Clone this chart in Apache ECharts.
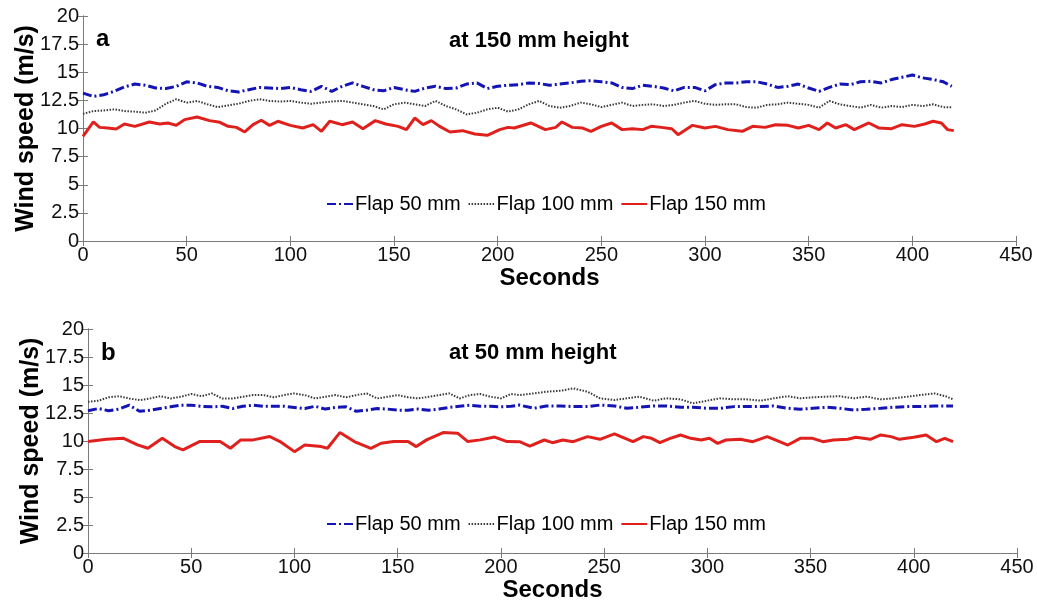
<!DOCTYPE html>
<html lang="en" style="height: 100%">

<head>
  <meta charset="utf-8">
</head>

<body style="height: 100%; margin: 0; background: #fff">
  <div id="container" style="width: 1037px; height: 603px"></div>

  <script type="text/javascript" src="https://cdn.jsdelivr.net/npm/echarts@6/dist/echarts.min.js"></script>
  <script type="text/javascript">
    // ---- panel a : at 150 mm height ----
    var secTop = [0, 5, 10, 15, 20, 25, 30, 35, 40, 45, 50, 55, 60, 65, 70, 75, 80, 85, 90, 95,
      100, 105, 110, 115, 120, 125, 130, 135, 140, 145, 150, 155, 160, 165, 170, 175, 180, 185, 190, 195,
      200, 205, 210, 215, 220, 225, 230, 235, 240, 245, 250, 255, 260, 265, 270, 275, 280, 285, 290, 295,
      300, 305, 310, 315, 320, 325, 330, 335, 340, 345, 350, 355, 360, 365, 370, 375, 380, 385, 390, 395,
      400, 405, 410, 415, 419];
    var flap50Top = [13.15, 12.85, 13.0, 13.3, 13.7, 13.95, 13.85, 13.6, 13.55, 13.75,
      14.15, 14.05, 13.75, 13.65, 13.35, 13.25, 13.45, 13.65, 13.6, 13.55,
      13.65, 13.45, 13.3, 13.75, 13.3, 13.75, 14.05, 13.75, 13.45, 13.35,
      13.65, 13.45, 13.3, 13.6, 13.75, 13.55, 13.6, 13.95, 14.05, 13.55,
      13.75, 13.85, 13.9, 14.05, 14.0, 13.85, 13.95, 14.05, 14.2, 14.25,
      14.15, 14.05, 13.65, 13.55, 13.85, 13.75, 13.6, 13.35, 13.65, 13.65,
      13.35, 13.9, 14.05, 14.05, 14.15, 14.15, 13.95, 13.65, 13.75, 13.95,
      13.6, 13.3, 13.65, 13.95, 13.9, 14.15, 14.2, 14.05, 14.35, 14.55,
      14.75, 14.5, 14.35, 14.15, 13.75];
    var flap100Top = [11.3, 11.55, 11.6, 11.7, 11.55, 11.5, 11.4, 11.6, 12.2, 12.6,
      12.3, 12.45, 12.15, 11.9, 12.05, 12.2, 12.45, 12.6, 12.45, 12.4,
      12.45, 12.3, 12.2, 12.3, 12.4, 12.45, 12.3, 12.15, 12.0, 11.7,
      12.15, 12.3, 12.15, 12.0, 12.45, 12.0, 11.7, 11.25, 11.4, 11.7,
      11.85, 11.5, 11.7, 12.15, 12.45, 12.0, 11.85, 12.0, 12.3, 12.15,
      11.9, 12.1, 12.3, 12.0, 12.1, 12.15, 12.0, 12.1, 12.3, 12.45,
      12.2, 12.1, 12.15, 12.15, 11.9, 11.85, 12.1, 12.15, 12.3, 12.2,
      12.1, 11.85, 12.45, 12.15, 12.0, 11.85, 12.1, 11.85, 12.0, 11.9,
      12.1, 12.0, 12.15, 11.9, 11.9];
    var secTopRed = [0, 5, 8, 12, 16, 20, 25, 32, 37, 41, 45, 49, 55, 61, 66, 70, 74, 78, 82, 86,
      90, 94, 100, 106, 111, 115, 119, 125, 130, 135, 141, 146, 152, 156, 160, 164, 168, 172, 177, 183,
      189, 195, 201, 205,
      208, 216, 223, 228, 231, 236, 241, 245, 250, 255, 260, 265, 270, 274, 279, 284, 287, 294, 300, 305,
      311, 318, 323, 329, 334, 340, 345, 350, 355, 359, 363, 368, 372, 379, 384, 390, 395, 401, 406, 410,
      414, 417, 420];
    var flap150Top = [9.3, 10.58, 10.1, 10.04, 9.96, 10.4, 10.19, 10.58, 10.4, 10.49,
      10.28, 10.79, 11.02, 10.7, 10.55, 10.19, 10.1, 9.69, 10.34, 10.73,
      10.28, 10.64, 10.28, 10.04, 10.34, 9.75, 10.64, 10.34, 10.58, 9.98,
      10.7, 10.4, 10.19, 9.9, 10.93, 10.34, 10.7, 10.19, 9.69, 9.81,
      9.51, 9.39, 9.9, 10.1,
      10.04, 10.49, 9.9, 10.1, 10.58, 10.1, 10.04, 9.75, 10.19, 10.49,
      9.9, 9.98, 9.9, 10.19, 10.1, 9.98, 9.45, 10.28, 10.04, 10.19,
      9.9, 9.75, 10.19, 10.1, 10.34, 10.28, 10.04, 10.28, 9.9, 10.49,
      10.04, 10.34, 9.9, 10.49, 10.04, 9.98, 10.34, 10.19, 10.4, 10.64,
      10.49, 9.9, 9.81];

    // ---- panel b : at 50 mm height ----
    var secBot = [0, 5, 10, 15, 20, 25, 30, 35, 40, 45, 50, 55, 60, 65, 70, 75, 80, 85, 90, 95,
      100, 105, 110, 115, 120, 125, 130, 135, 140, 145, 150, 155, 160, 165, 170, 175, 180, 185, 190, 195,
      200, 205,
      209, 216, 222, 229, 235, 242, 248, 255, 261, 267, 274, 280, 287, 293, 300, 306, 313, 319, 326, 332,
      339, 345, 351, 358, 364, 371, 377, 384, 390, 397, 403, 410, 416, 419];
    var flap50Bot = [12.7, 12.9, 12.7, 12.85, 13.2, 12.65, 12.75, 12.9, 13.05, 13.2,
      13.2, 13.1, 13.05, 13.1, 12.9, 13.1, 13.2, 13.1, 13.1, 13.1,
      13.0, 12.9, 13.1, 12.85, 13.0, 13.05, 12.65, 12.75, 12.9, 12.85,
      12.75, 12.75, 12.85, 12.75, 12.85, 13.0, 13.1, 13.2, 13.1, 13.1,
      13.05, 13.1,
      13.21, 12.92, 13.13, 13.13, 13.07, 13.07, 13.21, 13.13, 12.92, 13.01,
      13.13, 13.13, 13.01, 13.01, 12.92, 12.92, 13.07, 13.07, 13.07, 13.13,
      12.92, 12.83, 12.92, 13.01, 12.92, 12.77, 12.83, 12.92, 13.01, 13.07,
      13.07, 13.13, 13.13, 13.13];
    var flap100Bot = [13.5, 13.6, 13.9, 14.0, 13.8, 13.65, 13.8, 14.0, 13.8, 13.95,
      14.2, 14.0, 14.25, 13.8, 13.8, 13.95, 14.1, 14.1, 13.9, 14.1,
      14.25, 14.1, 13.8, 13.95, 14.1, 13.9, 14.1, 14.25, 13.8, 13.95,
      14.1, 13.9, 13.8, 13.95, 14.1, 14.25, 13.8, 14.1, 14.2, 13.95,
      13.8, 14.2,
      14.1, 14.25, 14.4, 14.49, 14.7, 14.4, 13.81, 13.66, 13.81, 13.96,
      13.6, 13.81, 13.72, 13.36, 13.6, 13.81, 13.72, 13.72, 13.6, 13.81,
      14.0, 13.81, 13.9, 13.96, 14.0, 13.81, 13.96, 13.72, 13.81, 13.96,
      14.1, 14.25, 13.96, 13.72];
    var secBotRed = [0, 9, 17, 24, 29, 36, 42, 46, 54, 64, 69, 74, 80, 88, 93, 100, 105, 113, 116, 122,
      129, 137, 142, 148, 155, 159, 164, 172, 179, 184, 190, 197, 203,
      209, 214, 221, 225, 230, 235, 242, 248, 255, 259, 264, 269, 273, 277, 282, 287, 292, 297, 301, 305,
      309, 316, 322, 329, 335, 339, 345, 351, 356, 361, 368, 372, 379, 384, 389, 393, 400, 406, 411, 415,
      419];
    var flap150Bot = [9.95, 10.15, 10.25, 9.65, 9.35, 10.25, 9.5, 9.2, 9.95, 9.95,
      9.35, 10.1, 10.1, 10.4, 9.95, 9.05, 9.65, 9.5, 9.35, 10.75,
      9.95, 9.35, 9.8, 9.95, 9.95, 9.5, 10.1, 10.75, 10.7, 9.95,
      10.1, 10.35, 9.95,
      9.94, 9.55, 10.09, 9.85, 10.09, 9.94, 10.39, 10.15, 10.63, 10.33,
      9.94, 10.39, 10.24, 9.85, 10.24, 10.54, 10.24, 10.09, 10.24, 9.79,
      10.09, 10.15, 9.94, 10.39, 9.94, 9.64, 10.24, 10.24, 9.94, 10.09,
      10.15, 10.33, 10.15, 10.54, 10.39, 10.15, 10.33, 10.54, 9.94, 10.24,
      9.94];

    var names = ['Flap 50 mm', 'Flap 100 mm', 'Flap 150 mm'];
    var yTicks = ['0', '2.5', '5', '7.5', '10', '12.5', '15', '17.5', '20'];

    var FONT = 'Liberation Sans, Arial, sans-serif';
    var AXIS_COLOR = '#7a7a7a';

    var styles = [
      { color: '#1414b4', width: 3, type: [9, 3, 2, 3] },
      { color: '#3a3a3a', width: 2, type: [1.5, 1.5] },
      { color: '#e0201c', width: 3, type: 'solid' }
    ];

    function zip(xs, ys) {
      return xs.map(function (x, i) { return [x, ys[i]]; });
    }

    var dom = document.getElementById('container');
    var myChart = echarts.init(dom, null, { renderer: 'canvas' });

    var grids = [
      { left: 83, top: 16, right: 21, height: 225 },
      { left: 88, top: 329, right: 20, height: 224 }
    ];

    var xAxes = [], yAxes = [], series = [], legends = [];
    var panels = [
      { sets: [[secTop, flap50Top], [secTop, flap100Top], [secTopRed, flap150Top]], legendTop: 189, yGap: 44 },
      { sets: [[secBot, flap50Bot], [secBot, flap100Bot], [secBotRed, flap150Bot]], legendTop: 509, yGap: 44 }
    ];

    panels.forEach(function (p, g) {
      // main axes
      xAxes.push({
        gridIndex: g, type: 'value', min: 0, max: 450, interval: 50, position: 'bottom',
        name: 'Seconds', nameLocation: 'middle', nameGap: 22,
        nameTextStyle: { fontFamily: FONT, fontSize: 24, fontWeight: 'bold', color: '#000' },
        axisLine: { show: true, lineStyle: { color: AXIS_COLOR, width: 1 } },
        axisTick: { show: true, inside: true, length: 5, lineStyle: { color: AXIS_COLOR } },
        axisLabel: { fontFamily: FONT, fontSize: 20, color: '#111', margin: 4 },
        splitLine: { show: false }
      });
      yAxes.push({
        gridIndex: g, type: 'value', min: 0, max: 20, interval: 2.5, position: 'left',
        name: 'Wind speed (m/s)', nameLocation: 'middle', nameGap: p.yGap, nameRotate: 90,
        nameMoveOverlap: false,
        nameTextStyle: { fontFamily: FONT, fontSize: 25, fontWeight: 'bold', color: '#000' },
        axisLine: { show: true, lineStyle: { color: AXIS_COLOR, width: 1 } },
        axisTick: { show: true, inside: true, length: 5, lineStyle: { color: AXIS_COLOR } },
        axisLabel: {
          fontFamily: FONT, fontSize: 20, color: '#111', margin: 4,
          formatter: function (v) { return yTicks[Math.round(v / 2.5)]; }
        },
        splitLine: { show: false }
      });
      // box top / right
      xAxes.push({
        gridIndex: g, type: 'value', min: 0, max: 450, interval: 50, position: 'top',
        axisLine: { show: true, lineStyle: { color: AXIS_COLOR, width: 1 } },
        axisTick: { show: true, inside: true, length: 5, lineStyle: { color: AXIS_COLOR } },
        axisLabel: { show: false }, splitLine: { show: false }
      });
      yAxes.push({
        gridIndex: g, type: 'value', min: 0, max: 20, interval: 2.5, position: 'right',
        axisLine: { show: true, lineStyle: { color: AXIS_COLOR, width: 1 } },
        axisTick: { show: true, inside: true, length: 5, lineStyle: { color: AXIS_COLOR } },
        axisLabel: { show: false }, splitLine: { show: false }
      });

      p.sets.forEach(function (s, k) {
        series.push({
          type: 'line', name: names[k], xAxisIndex: g * 2, yAxisIndex: g * 2,
          data: zip(s[0], s[1]), showSymbol: false, symbol: 'none', smooth: false,
          lineStyle: styles[k], itemStyle: { color: styles[k].color },
          z: k === 1 ? 3 : 2, animation: false
        });
      });

      legends.push({
        data: names, left: 321, top: p.legendTop, orient: 'horizontal',
        itemWidth: 26, itemHeight: 12, itemGap: 7,
        itemStyle: { opacity: 0 },
        textStyle: { fontFamily: FONT, fontSize: 20, color: '#000', padding: [0, 0, 0, -3] },
        selectedMode: false
      });
    });

    var option = {
      backgroundColor: '#fff',
      animation: false,
      grid: grids,
      xAxis: xAxes,
      yAxis: yAxes,
      legend: legends,
      series: series,
      graphic: [
        { type: 'text', left: 96, top: 27, style: { text: 'a', font: 'bold 24px ' + FONT, fill: '#000' } },
        { type: 'text', left: 449, top: 30, style: { text: 'at 150 mm height', font: 'bold 22px ' + FONT, fill: '#000' } },
        { type: 'text', left: 101, top: 341, style: { text: 'b', font: 'bold 24px ' + FONT, fill: '#000' } },
        { type: 'text', left: 449, top: 342, style: { text: 'at 50 mm height', font: 'bold 22px ' + FONT, fill: '#000' } }
      ]
    };

    myChart.setOption(option);
    window.addEventListener('resize', myChart.resize);
  </script>
</body>

</html>
